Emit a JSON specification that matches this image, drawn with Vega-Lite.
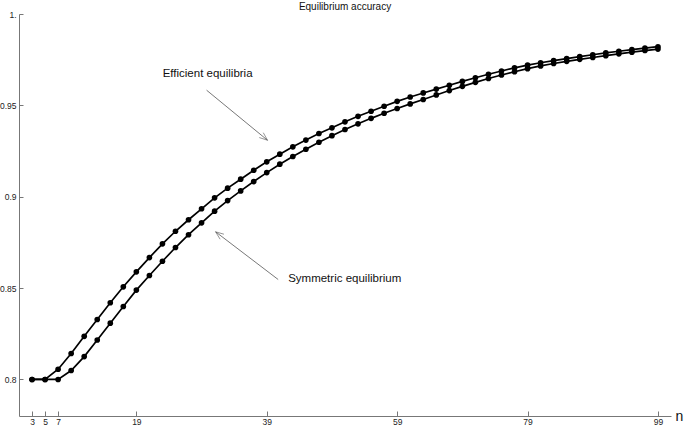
{
  "$schema": "https://vega.github.io/schema/vega-lite/v6.json",
  "autosize": {"type": "none"},
  "padding": {"left": 19, "top": 14, "right": 14, "bottom": 10},
  "width": 652,
  "height": 402,
  "background": "white",
  "title": {"text": "Equilibrium accuracy", "fontSize": 10, "fontWeight": "normal", "color": "#111", "anchor": "middle", "offset": -2},
  "config": {
    "font": "Liberation Sans",
    "view": {"stroke": null},
    "axis": {"grid": false, "domainColor": "#777", "tickColor": "#777", "labelColor": "#222", "labelFontSize": 8.5, "labelFont": "Liberation Sans"}
  },
  "datasets": {
    "acc": [
      {"n": 3, "acc": 0.8, "eq": "Efficient"},
      {"n": 5, "acc": 0.8, "eq": "Efficient"},
      {"n": 7, "acc": 0.8056, "eq": "Efficient"},
      {"n": 9, "acc": 0.8142, "eq": "Efficient"},
      {"n": 11, "acc": 0.8236, "eq": "Efficient"},
      {"n": 13, "acc": 0.8328, "eq": "Efficient"},
      {"n": 15, "acc": 0.842, "eq": "Efficient"},
      {"n": 17, "acc": 0.8507, "eq": "Efficient"},
      {"n": 19, "acc": 0.8589, "eq": "Efficient"},
      {"n": 21, "acc": 0.8667, "eq": "Efficient"},
      {"n": 23, "acc": 0.8742, "eq": "Efficient"},
      {"n": 25, "acc": 0.8811, "eq": "Efficient"},
      {"n": 27, "acc": 0.8874, "eq": "Efficient"},
      {"n": 29, "acc": 0.8934, "eq": "Efficient"},
      {"n": 31, "acc": 0.8994, "eq": "Efficient"},
      {"n": 33, "acc": 0.9047, "eq": "Efficient"},
      {"n": 35, "acc": 0.9096, "eq": "Efficient"},
      {"n": 37, "acc": 0.9145, "eq": "Efficient"},
      {"n": 39, "acc": 0.9191, "eq": "Efficient"},
      {"n": 41, "acc": 0.9233, "eq": "Efficient"},
      {"n": 43, "acc": 0.9273, "eq": "Efficient"},
      {"n": 45, "acc": 0.931, "eq": "Efficient"},
      {"n": 47, "acc": 0.9346, "eq": "Efficient"},
      {"n": 49, "acc": 0.9377, "eq": "Efficient"},
      {"n": 51, "acc": 0.941, "eq": "Efficient"},
      {"n": 53, "acc": 0.944, "eq": "Efficient"},
      {"n": 55, "acc": 0.9468, "eq": "Efficient"},
      {"n": 57, "acc": 0.9495, "eq": "Efficient"},
      {"n": 59, "acc": 0.9522, "eq": "Efficient"},
      {"n": 61, "acc": 0.9546, "eq": "Efficient"},
      {"n": 63, "acc": 0.9568, "eq": "Efficient"},
      {"n": 65, "acc": 0.9589, "eq": "Efficient"},
      {"n": 67, "acc": 0.961, "eq": "Efficient"},
      {"n": 69, "acc": 0.9631, "eq": "Efficient"},
      {"n": 71, "acc": 0.9651, "eq": "Efficient"},
      {"n": 73, "acc": 0.967, "eq": "Efficient"},
      {"n": 75, "acc": 0.9688, "eq": "Efficient"},
      {"n": 77, "acc": 0.9705, "eq": "Efficient"},
      {"n": 79, "acc": 0.972, "eq": "Efficient"},
      {"n": 81, "acc": 0.9733, "eq": "Efficient"},
      {"n": 83, "acc": 0.9745, "eq": "Efficient"},
      {"n": 85, "acc": 0.9756, "eq": "Efficient"},
      {"n": 87, "acc": 0.9767, "eq": "Efficient"},
      {"n": 89, "acc": 0.9777, "eq": "Efficient"},
      {"n": 91, "acc": 0.9787, "eq": "Efficient"},
      {"n": 93, "acc": 0.9796, "eq": "Efficient"},
      {"n": 95, "acc": 0.9805, "eq": "Efficient"},
      {"n": 97, "acc": 0.9813, "eq": "Efficient"},
      {"n": 99, "acc": 0.9821, "eq": "Efficient"},
      {"n": 3, "acc": 0.8, "eq": "Symmetric"},
      {"n": 5, "acc": 0.8, "eq": "Symmetric"},
      {"n": 7, "acc": 0.8, "eq": "Symmetric"},
      {"n": 9, "acc": 0.8049, "eq": "Symmetric"},
      {"n": 11, "acc": 0.8125, "eq": "Symmetric"},
      {"n": 13, "acc": 0.8216, "eq": "Symmetric"},
      {"n": 15, "acc": 0.8308, "eq": "Symmetric"},
      {"n": 17, "acc": 0.8399, "eq": "Symmetric"},
      {"n": 19, "acc": 0.8489, "eq": "Symmetric"},
      {"n": 21, "acc": 0.8569, "eq": "Symmetric"},
      {"n": 23, "acc": 0.8647, "eq": "Symmetric"},
      {"n": 25, "acc": 0.8722, "eq": "Symmetric"},
      {"n": 27, "acc": 0.8792, "eq": "Symmetric"},
      {"n": 29, "acc": 0.8857, "eq": "Symmetric"},
      {"n": 31, "acc": 0.8921, "eq": "Symmetric"},
      {"n": 33, "acc": 0.8979, "eq": "Symmetric"},
      {"n": 35, "acc": 0.9032, "eq": "Symmetric"},
      {"n": 37, "acc": 0.9083, "eq": "Symmetric"},
      {"n": 39, "acc": 0.9132, "eq": "Symmetric"},
      {"n": 41, "acc": 0.9178, "eq": "Symmetric"},
      {"n": 43, "acc": 0.922, "eq": "Symmetric"},
      {"n": 45, "acc": 0.926, "eq": "Symmetric"},
      {"n": 47, "acc": 0.9298, "eq": "Symmetric"},
      {"n": 49, "acc": 0.9334, "eq": "Symmetric"},
      {"n": 51, "acc": 0.9368, "eq": "Symmetric"},
      {"n": 53, "acc": 0.9399, "eq": "Symmetric"},
      {"n": 55, "acc": 0.9429, "eq": "Symmetric"},
      {"n": 57, "acc": 0.9457, "eq": "Symmetric"},
      {"n": 59, "acc": 0.9483, "eq": "Symmetric"},
      {"n": 61, "acc": 0.9508, "eq": "Symmetric"},
      {"n": 63, "acc": 0.9532, "eq": "Symmetric"},
      {"n": 65, "acc": 0.9557, "eq": "Symmetric"},
      {"n": 67, "acc": 0.9581, "eq": "Symmetric"},
      {"n": 69, "acc": 0.9604, "eq": "Symmetric"},
      {"n": 71, "acc": 0.9626, "eq": "Symmetric"},
      {"n": 73, "acc": 0.9647, "eq": "Symmetric"},
      {"n": 75, "acc": 0.9666, "eq": "Symmetric"},
      {"n": 77, "acc": 0.9684, "eq": "Symmetric"},
      {"n": 79, "acc": 0.9701, "eq": "Symmetric"},
      {"n": 81, "acc": 0.9716, "eq": "Symmetric"},
      {"n": 83, "acc": 0.9729, "eq": "Symmetric"},
      {"n": 85, "acc": 0.9741, "eq": "Symmetric"},
      {"n": 87, "acc": 0.9752, "eq": "Symmetric"},
      {"n": 89, "acc": 0.9762, "eq": "Symmetric"},
      {"n": 91, "acc": 0.9772, "eq": "Symmetric"},
      {"n": 93, "acc": 0.9782, "eq": "Symmetric"},
      {"n": 95, "acc": 0.9791, "eq": "Symmetric"},
      {"n": 97, "acc": 0.98, "eq": "Symmetric"},
      {"n": 99, "acc": 0.9808, "eq": "Symmetric"}
    ],
    "notes": [
      {"label": "Efficient equilibria", "tx": 23.03, "ty": 0.9672, "ax": 29.77, "ay": 0.9583, "hx": 39.12, "hy": 0.9309},
      {"label": "Symmetric equilibrium", "tx": 42.28, "ty": 0.8551, "ax": 40.75, "ay": 0.8547, "hx": 31.15, "hy": 0.8808}
    ]
  },
  "layer": [
    {
      "data": {"name": "acc"},
      "mark": {"type": "line", "color": "black", "strokeWidth": 1.7, "point": {"filled": true, "size": 32, "color": "black"}},
      "encoding": {
        "x": {"field": "n", "type": "quantitative", "scale": {"domain": [1, 101], "nice": false, "zero": false},
          "axis": {"values": [3, 5, 7, 19, 39, 59, 79, 99], "tickSize": -5, "labelPadding": 6, "title": "n", "titleFontSize": 14, "titleFontWeight": "normal", "titleColor": "#111", "titleAnchor": "start", "titleAlign": "left", "titleBaseline": "alphabetic", "titleX": 656, "titleY": 4}},
        "y": {"field": "acc", "type": "quantitative", "scale": {"domain": [0.78, 1.0], "nice": false, "zero": false},
          "axis": {"values": [0.8, 0.85, 0.9, 0.95, 1], "tickSize": -4, "labelPadding": 7, "title": null, "labelExpr": "datum.value == 1 ? '1.' : format(datum.value, '.2~f')"}},
        "detail": {"field": "eq"}
      }
    },
    {
      "data": {"name": "notes"},
      "mark": {"type": "text", "align": "left", "baseline": "middle", "fontSize": 11.5, "color": "#111"},
      "encoding": {
        "x": {"field": "tx", "type": "quantitative"},
        "y": {"field": "ty", "type": "quantitative"},
        "text": {"field": "label"}
      }
    },
    {
      "data": {"name": "notes"},
      "mark": {"type": "rule", "color": "#555", "strokeWidth": 0.8},
      "encoding": {
        "x": {"field": "ax", "type": "quantitative"},
        "y": {"field": "ay", "type": "quantitative"},
        "x2": {"field": "hx"},
        "y2": {"field": "hy"}
      }
    },
    {
      "data": {"name": "notes"},
      "transform": [{"filter": "datum.label == 'Efficient equilibria'"}],
      "mark": {"type": "point", "shape": "M-0.35,0.9L0,0L0.35,0.9", "filled": false, "stroke": "#555", "strokeWidth": 0.8, "size": 324, "angle": 129.4},
      "encoding": {
        "x": {"field": "hx", "type": "quantitative"},
        "y": {"field": "hy", "type": "quantitative"}
      }
    },
    {
      "data": {"name": "notes"},
      "transform": [{"filter": "datum.label == 'Symmetric equilibrium'"}],
      "mark": {"type": "point", "shape": "M-0.35,0.9L0,0L0.35,0.9", "filled": false, "stroke": "#555", "strokeWidth": 0.8, "size": 324, "angle": 307.3},
      "encoding": {
        "x": {"field": "hx", "type": "quantitative"},
        "y": {"field": "hy", "type": "quantitative"}
      }
    }
  ]
}
